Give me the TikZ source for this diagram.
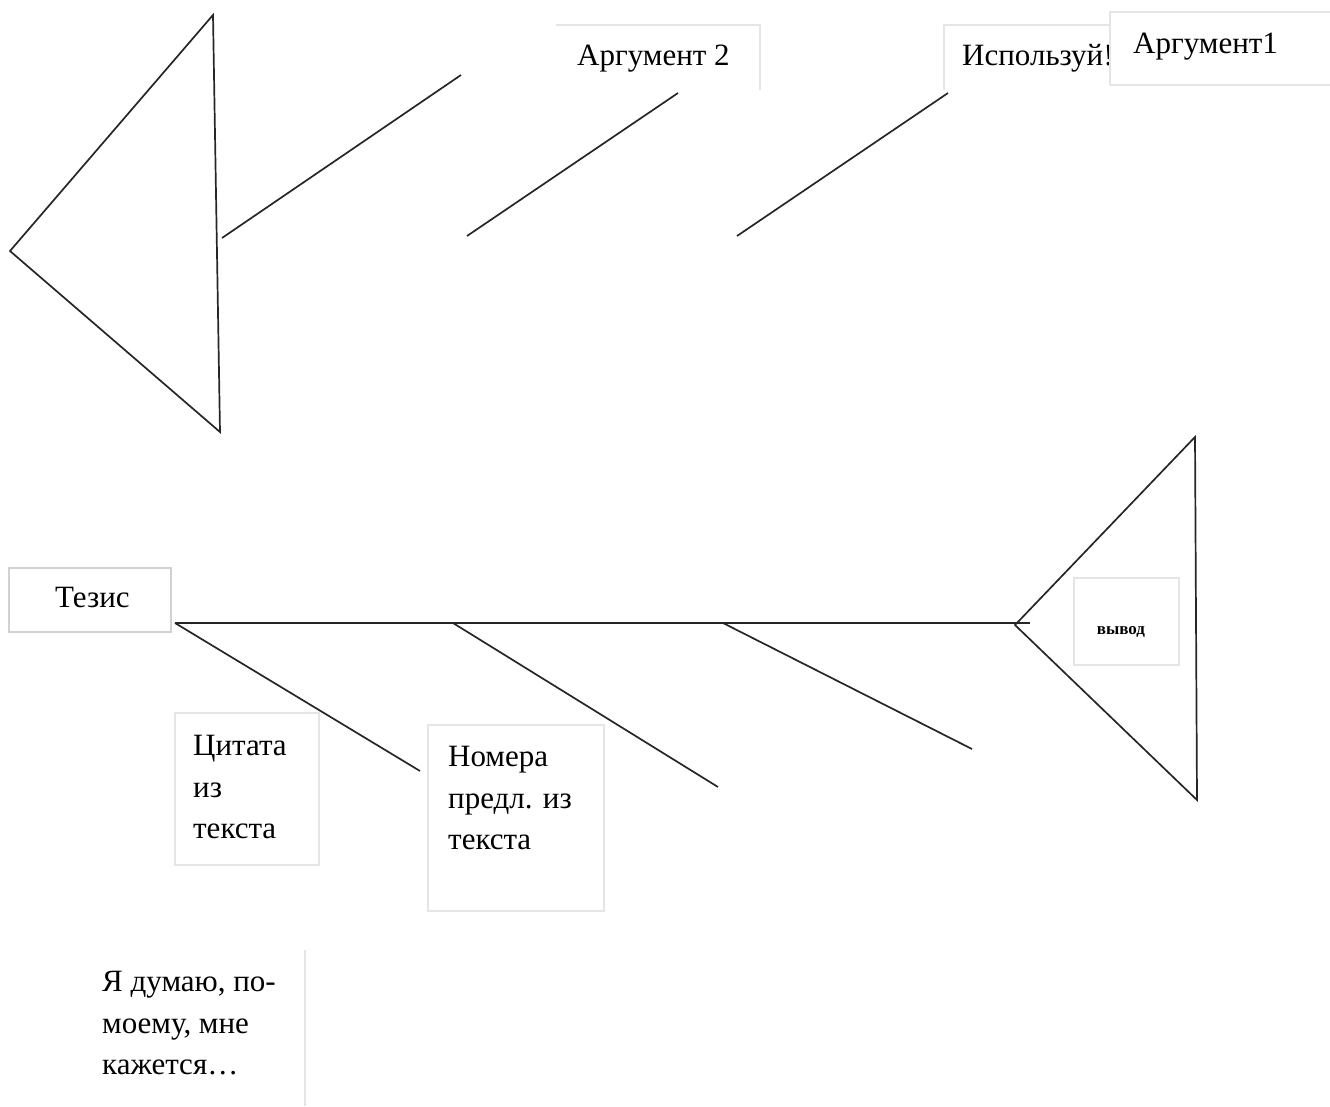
\documentclass[tikz,border=0pt]{standalone}
\usepackage{fontspec}
\setmainfont{Liberation Serif}
\begin{document}
\begin{tikzpicture}[x=1pt,y=-1pt,
  bone/.style={draw=black!85, line width=1.7pt},
  lbox/.style={draw=black!10, line width=1.2pt, fill=white},
  faint/.style={draw=black!10, line width=1.2pt},
  lbl/.style={font=\fontsize{31}{41.5}\selectfont, inner sep=0pt, anchor=base west, align=left}]
\useasboundingbox (0,0) rectangle (1330,1106);
% ---- top fish ----
\coordinate (ta) at (213,15);
\coordinate (tb) at (10,251);
\coordinate (tc) at (220,432);
\draw[bone, line join=miter] (ta) -- (tb) -- (tc) -- cycle;
\coordinate (t1a) at (222,238); \coordinate (t1b) at (461,75);
\coordinate (t2a) at (467,236); \coordinate (t2b) at (678,93);
\coordinate (t3a) at (737,236); \coordinate (t3b) at (948,93);
\draw[bone] (t1a) -- (t1b);
\draw[bone] (t2a) -- (t2b);
\draw[bone] (t3a) -- (t3b);
% top labels
\draw[faint] (556,25) -- (760,25) -- (760,90);
\node[lbl] (arg2) at (577,65) {Аргумент 2};
\draw[faint] (944,90) -- (944,25) -- (1115,25);
\node[lbl] (use) at (962,65) {Используй!};
\fill[white] (1110,12) rectangle (1330,85);
\draw[faint] (1110,85) -- (1110,12) -- (1330,12);
\draw[faint] (1110,85) -- (1330,85);
\node[lbl] (arg1) at (1133,53) {Аргумент1};
% ---- bottom fish ----
\coordinate (s0) at (175,623);
\coordinate (s1) at (453,623);
\coordinate (s2) at (723,623);
\coordinate (s3) at (1030,623);
\coordinate (ba) at (1195,437);
\coordinate (bb) at (1015,625);
\coordinate (bc) at (1197,800);
\draw[bone] (s0) -- (s3);
\draw[bone, line join=miter] (ba) -- (bb) -- (bc) -- cycle;
\coordinate (b1) at (420,771);
\coordinate (b2) at (718,787);
\coordinate (b3) at (972,749);
\draw[bone] (s0) -- (b1);
\draw[bone] (s1) -- (b2);
\draw[bone] (s2) -- (b3);
% bottom labels
\draw[draw=black!18, line width=2.2pt, fill=white] (9,568) rectangle (171,632);
\node[lbl] (tez) at (55,607) {Тезис};
\draw[lbox] (1074,578) rectangle (1179,665);
\node[font=\bfseries\fontsize{17}{19}\selectfont, inner sep=0pt] (vyv) at (1121,632) {вывод};
\draw[lbox] (175,713) rectangle (319,865);
\node[lbl, anchor=north west] (cit) at (193,735) {Цитата\\из\\текста};
\draw[lbox] (428,725) rectangle (604,911);
\node[lbl, anchor=north west] (nom) at (448,746) {Номера\\предл. из\\текста};
\draw[faint] (305,950) -- (305,1106);
\node[lbl, anchor=north west] (dum) at (102,971) {Я думаю, по-\\моему, мне\\кажется…};
\end{tikzpicture}
\end{document}
